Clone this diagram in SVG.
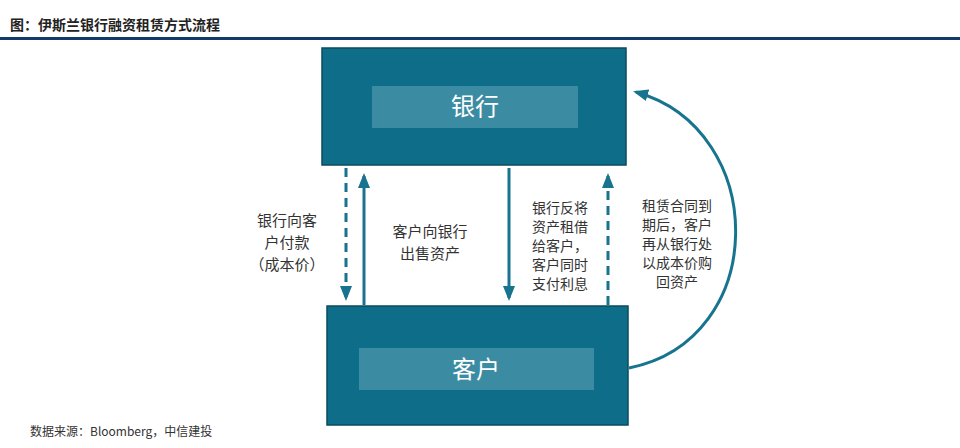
<svg xmlns="http://www.w3.org/2000/svg" width="960" height="448" viewBox="0 0 960 448">
<style>
.box{fill:#0e6d88;stroke:#0a4b5e;stroke-width:1.5}
.in{fill:#3b8ba3}
.lbl{font-family:"Noto Sans CJK SC",sans-serif;font-size:24px;fill:#fff;text-anchor:middle}
.t{font-family:"Noto Sans CJK SC",sans-serif;font-size:15px;fill:#333;text-anchor:middle}
.c{stroke:#17738e;stroke-width:3;fill:none}
.d{stroke-dasharray:9,6}
</style>
<defs>
<marker id="a" markerWidth="5" markerHeight="4" refX="4" refY="2" orient="auto"><path d="M0,0L5,2L0,4z" fill="#17738e"/></marker>
</defs>
<rect width="960" height="448" fill="#fff"/>
<text x="10" y="30" font-family="Noto Sans CJK SC,sans-serif" font-size="14" font-weight="bold" fill="#222">图：伊斯兰银行融资租赁方式流程</text>
<rect x="0" y="37" width="960" height="3" fill="#123a6b"/>
<g id="bank"><rect class="box" x="322" y="48" width="304" height="117"/><rect class="in" x="372" y="86" width="206" height="42"/><text class="lbl" x="475" y="115">银行</text></g>
<g id="customer"><rect class="box" x="327" y="306" width="301" height="119"/><rect class="in" x="359" y="348" width="235" height="42"/><text class="lbl" x="476" y="378">客户</text></g>
<g id="connectors">
<path class="c d" d="M346 168V298" marker-end="url(#a)"/>
<path class="c" d="M364 305V176" marker-end="url(#a)"/>
<path class="c" d="M509 168V298" marker-end="url(#a)"/>
<path class="c d" d="M608 305V176" marker-end="url(#a)"/>
<path class="c" d="M629 368C770 340 770 130 636 92" marker-end="url(#a)"/>
</g>
<g id="labels">
<text class="t"><tspan x="287" y="226">银行向客</tspan><tspan x="287" y="248">户付款</tspan><tspan x="287" y="270">（成本价）</tspan></text>
<text class="t"><tspan x="430" y="237">客户向银行</tspan><tspan x="430" y="259">出售资产</tspan></text>
<text class="t" style="font-size:14px"><tspan x="560" y="213">银行反将</tspan><tspan x="560" y="232">资产租借</tspan><tspan x="560" y="251">给客户，</tspan><tspan x="560" y="270">客户同时</tspan><tspan x="560" y="289">支付利息</tspan></text>
<text class="t" style="font-size:14px"><tspan x="677" y="211">租赁合同到</tspan><tspan x="677" y="230">期后，客户</tspan><tspan x="677" y="249">再从银行处</tspan><tspan x="677" y="268">以成本价购</tspan><tspan x="677" y="287">回资产</tspan></text>
</g>
<text x="30" y="436" font-family="Noto Sans CJK SC,sans-serif" font-size="12" fill="#333">数据来源：Bloomberg，中信建投</text>
</svg>
